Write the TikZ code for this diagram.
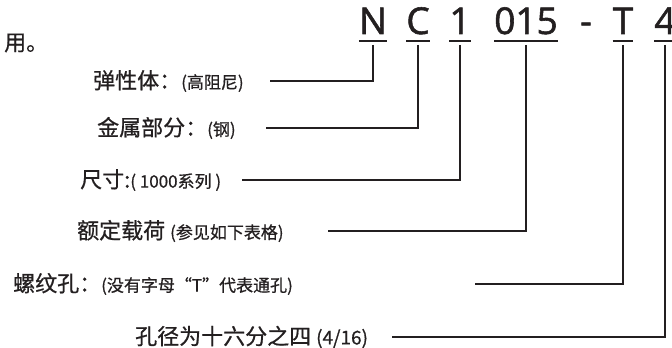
\documentclass[tikz,border=0pt]{standalone}
\usepackage{fontspec}
\setmainfont{Noto Sans CJK SC}[FakeBold=0.7]
\newfontfamily\codefont{Open Sans}[FakeBold=1.5]
\usetikzlibrary{calc}
\definecolor{ink}{RGB}{35,31,32}
\newcommand{\sm}[1]{{\fontsize{17}{20}\selectfont #1}}
\tikzset{
  code/.style={font=\codefont\fontsize{37}{37}\selectfont, text=ink, inner sep=0pt, anchor=base},
  lbl/.style={font=\fontsize{22}{26}\selectfont, text=ink, inner sep=0pt, anchor=west},
  rule/.style={ink, line width=1.8pt}
}

\begin{document}
\begin{tikzpicture}[x=1pt,y=1pt]
\useasboundingbox (0,0) rectangle (672,348);
\node[lbl] (tail) at (4,305) {用。};

% the type code, each part underlined
\foreach \n/\t/\x in {N/N/373, C/C/418, S/1/460, L/015/526, T/T/623, D/4/665} {
 \node[code] (c\n) at (\x,314) {\t};
 \draw[rule] ([yshift=-7pt]c\n.base west) -- ([yshift=-7pt]c\n.base east);
}
\node[code] (cdash) at (586,314) {-};

% what each part means
\node[lbl] (lElast) at (93,267) {弹性体：\sm{(高阻尼)}};
\node[lbl] (lMetal) at (97,220) {金属部分：\sm{(钢)}};
\node[lbl] (lSize) at (80,168) {尺寸:\sm{( 1000系列 )}};
\node[lbl] (lLoad) at (77,117) {额定载荷 \sm{(参见如下表格)}};
\node[lbl] (lThread) at (13,64) {螺纹孔：\sm{(没有字母“T”代表通孔)}};
\node[lbl] (lDia) at (135,11) {孔径为十六分之四 {\fontsize{19}{22}\selectfont(4/16)}};

\coordinate (eElast) at (270,267);
\coordinate (eMetal) at (266,220);
\coordinate (eSize) at (242,168);
\coordinate (eLoad) at (328,117);
\coordinate (eThread) at (475,64);
\coordinate (eDia) at (392,11);

\draw[rule] ([yshift=-11pt]cN.base) |- (eElast);
\draw[rule] ([yshift=-11pt]cC.base) |- (eMetal);
\draw[rule] ([yshift=-11pt]cS.base) |- (eSize);
\draw[rule] ([yshift=-11pt]cL.base) |- (eLoad);
\draw[rule] ([yshift=-11pt]cT.base) |- (eThread);
\draw[rule] ([yshift=-11pt]cD.base) |- (eDia);
\end{tikzpicture}
\end{document}
